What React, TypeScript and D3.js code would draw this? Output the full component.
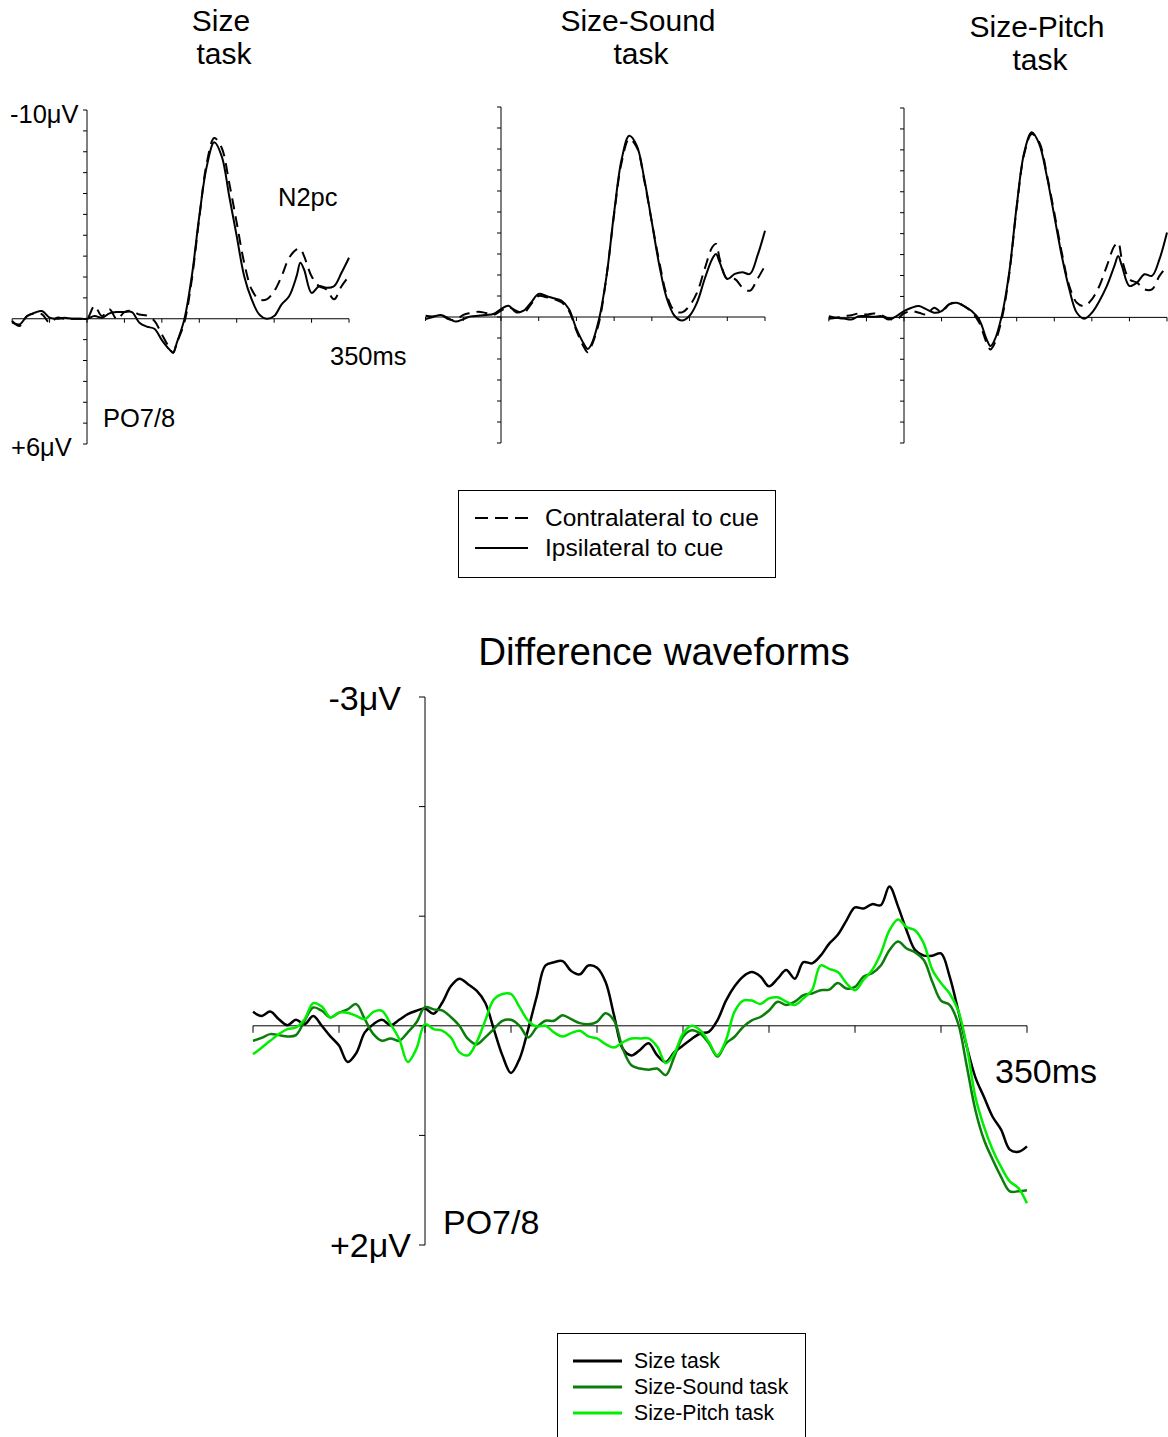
import React from "react";
import * as d3 from "d3";

// ---------- Top panels (ERP, µV, negative up) ----------
const topTimes = [-100, -90, -80, -70, -60, -50, -40, -30, -20, -10, 0, 10, 20, 30, 40, 50, 60, 70, 80, 90, 100, 110, 115, 120, 130, 140, 150, 160, 170, 180, 190, 200, 210, 220, 230, 240, 250, 260, 270, 280, 285, 290, 300, 310, 320, 330, 340, 350];

const sizeIpsi = [0.19, 0.27, -0.13, -0.29, -0.37, -0.05, 0, -0.05, 0, 0, 0, -0.13, -0.05, -0.26, -0.32, -0.32, -0.32, 0.19, 0.38, 0.48, 1.02, 1.47, 1.63, 1.15, 0.03, -2.04, -4.91, -7.3, -8.45, -7.78, -5.87, -3.96, -2.04, -0.93, -0.21, 0, -0.13, -0.69, -1.08, -2.04, -2.68, -2.36, -1.24, -1.56, -1.48, -1.56, -2.2, -2.92];
const sizeContra = [0.11, 0.35, -0.13, -0.26, -0.21, 0.19, -0.05, 0, 0, 0, 0, -0.61, -0.13, -0.45, 0.03, -0.32, -0.37, -0.2, -0.15, 0.1, 0.75, 1.39, 1.63, 1.15, 0.19, -1.88, -4.83, -7.46, -8.66, -8.18, -6.5, -4.6, -2.68, -1.4, -0.93, -0.93, -1.32, -2.04, -2.92, -3.32, -3.35, -3.0, -2.04, -1.56, -1.4, -0.93, -1.56, -2.04];

const soundIpsi = [0.1, 0, -0.1, 0.06, 0.22, 0.1, -0.03, -0.06, -0.1, -0.14, -0.38, -0.54, -0.22, -0.3, -0.7, -1.1, -1.0, -0.89, -0.78, -0.38, 0.57, 1.29, 1.52, 1.29, 0.1, -1.97, -4.98, -7.52, -8.63, -8.16, -6.57, -4.51, -2.44, -0.86, -0.06, 0.17, -0.06, -0.7, -1.81, -2.76, -3.0, -2.6, -1.81, -2.05, -2.13, -2.05, -2.92, -4.11];
const soundContra = [-0.06, -0.03, -0.1, 0.1, 0.13, -0.1, -0.19, -0.25, -0.19, -0.1, -0.3, -0.46, -0.3, -0.19, -0.62, -1.0, -0.94, -0.86, -0.7, -0.3, 0.65, 1.44, 1.68, 1.37, 0.25, -1.97, -4.9, -7.37, -8.48, -8.08, -6.49, -4.51, -2.6, -1.02, -0.3, -0.22, -0.54, -1.17, -2.29, -3.32, -3.48, -2.76, -1.81, -1.81, -1.41, -1.25, -1.81, -2.44];

const pitchIpsi = [-0.06, 0.02, 0.06, 0.1, -0.06, -0.06, -0.03, -0.06, 0.1, -0.06, -0.3, -0.46, -0.54, -0.38, -0.22, -0.3, -0.62, -0.7, -0.54, -0.3, 0.1, 1.05, 1.37, 1.13, -0.06, -2.14, -5.33, -7.88, -8.84, -8.28, -6.76, -4.85, -2.93, -1.34, -0.22, 0.06, -0.22, -0.78, -1.5, -2.46, -2.93, -2.46, -1.5, -1.66, -2.06, -1.98, -2.78, -4.05];
const pitchContra = [0.06, 0.02, -0.06, -0.1, -0.19, -0.14, -0.19, -0.1, 0.06, 0.1, -0.19, -0.3, -0.22, -0.14, -0.46, -0.26, -0.62, -0.7, -0.54, -0.26, 0.25, 1.21, 1.53, 1.29, 0.1, -2.06, -5.25, -7.8, -8.76, -8.36, -6.84, -5.0, -3.09, -1.5, -0.7, -0.54, -0.86, -1.5, -2.46, -3.41, -3.57, -2.78, -1.82, -1.66, -1.34, -1.34, -1.98, -2.46];

const topTitles = [["Size", "task"], ["Size-Sound", "task"], ["Size-Pitch", "task"]];
const topYTicks = d3.range(-10, 7, 1);
const xTicks = d3.range(-100, 351, 50);

// ---------- Difference waveforms ----------
const diffTimes = d3.range(-100, 351, 5);
const diffSize = [-0.128, -0.09, -0.13, -0.06, -0.006, -0.055, -0.015, -0.09, 0, 0.097, 0.18, 0.33, 0.25, 0.06, -0.015, -0.055, -0.006, -0.055, -0.106, -0.137, -0.158,
  -0.11, -0.21, -0.36, -0.43, -0.38, -0.32, -0.21, 0.03, 0.27, 0.43, 0.3, 0.03, -0.27, -0.55, -0.58, -0.59, -0.5, -0.47, -0.55, -0.53, -0.4, -0.09, 0.21, 0.27,
  0.22, 0.16, 0.27, 0.33, 0.24, 0.18, 0.12, 0.07, 0.055, -0.05, -0.23, -0.36, -0.45, -0.49, -0.45, -0.36, -0.43, -0.51, -0.43, -0.58, -0.57, -0.64, -0.75,
  -0.83, -0.96, -1.08, -1.07, -1.11, -1.1, -1.27, -1.09, -0.87, -0.69, -0.64, -0.64, -0.66, -0.45, -0.14, 0.19, 0.47, 0.65, 0.83, 0.95, 1.13, 1.15, 1.1];
const diffSound = [0.137, 0.11, 0.076, 0.085, 0.097, 0.085, -0.046, -0.167, -0.137, -0.076, -0.12, -0.15, -0.198, -0.06, 0.076, 0.137, 0.115, 0.137, 0.06, -0.03, -0.17,
  -0.15, -0.14, -0.08, 0, 0.12, 0.17, 0.106, 0.03, -0.046, -0.055, 0, 0.106, 0.015, -0.046, -0.046, -0.097, -0.06, -0.024, -0.015, -0.036, -0.115, -0.046, 0.21, 0.36,
  0.39, 0.4, 0.39, 0.45, 0.28, 0.1, 0.04, 0.07, 0.16, 0.28, 0.16, 0.1, 0.01, -0.05, -0.08, -0.14, -0.22, -0.19, -0.22, -0.28, -0.295, -0.325, -0.33,
  -0.39, -0.34, -0.355, -0.45, -0.48, -0.55, -0.69, -0.77, -0.705, -0.67, -0.6, -0.4, -0.23, -0.19, -0.02, 0.37, 0.77, 1.04, 1.22, 1.38, 1.51, 1.51, 1.5];
const diffPitch = [0.26, 0.2, 0.137, 0.076, 0.03, 0.015, -0.06, -0.207, -0.176, -0.076, -0.12, -0.12, -0.09, -0.06, -0.128, -0.137, -0.015, 0.12, 0.33, 0.21, -0.015,
  0.03, 0.045, 0.106, 0.24, 0.27, 0.15, -0.046, -0.24, -0.29, -0.29, -0.17, -0.046, 0.006, 0, 0.06, 0.097, 0.067, 0.045, 0.097, 0.115, 0.167, 0.198, 0.15, 0.115,
  0.115, 0.115, 0.19, 0.34, 0.25, 0.07, 0, 0.04, 0.146, 0.27, 0.13, -0.13, -0.23, -0.23, -0.2, -0.25, -0.26, -0.22, -0.19, -0.25, -0.325, -0.55, -0.52,
  -0.49, -0.39, -0.325, -0.42, -0.51, -0.66, -0.87, -0.97, -0.9, -0.87, -0.75, -0.51, -0.39, -0.295, -0.14, 0.19, 0.65, 0.92, 1.13, 1.29, 1.42, 1.48, 1.62];
const diffNames = ["Size task", "Size-Sound task", "Size-Pitch task"];
const diffColors = ["#000000", "#0a7d0a", "#00ee00"];
const diffYTicks = d3.range(-3, 3, 1);

const FONT = "'Liberation Sans', Arial, Helvetica, sans-serif";

const panelLayout = [
  { axisX: 87, xEnd: 349, yTop: 110, yBot: 444, titleX: 221, titleY: 31 },
  { axisX: 501, xEnd: 765, yTop: 107, yBot: 443, titleX: 638, titleY: 31 },
  { axisX: 904, xEnd: 1167, yTop: 108, yBot: 443, titleX: 1037, titleY: 37 },
];
const panelData = [
  { contra: sizeContra, ipsi: sizeIpsi },
  { contra: soundContra, ipsi: soundIpsi },
  { contra: pitchContra, ipsi: pitchIpsi },
];

function TopPanel({ idx }: { idx: number }) {
  const L = panelLayout[idx];
  const D = panelData[idx];
  const w = L.xEnd - L.axisX;
  const x = d3.scaleLinear().domain([-100, 350]).range([L.axisX - (w * 100) / 350, L.xEnd]);
  const y = d3.scaleLinear().domain([-10, 6]).range([L.yTop, L.yBot]);
  const line = d3
    .line<number>()
    .x((_, i) => x(topTimes[i]))
    .y((v) => y(v))
    .curve(d3.curveCatmullRom.alpha(0.5));
  const y0 = y(0);
  return (
    <g>
      <text x={L.titleX} y={L.titleY} textAnchor="middle" fontSize={30} fontFamily={FONT}>{topTitles[idx][0]}</text>
      <text x={L.titleX + 3} y={L.titleY + 33} textAnchor="middle" fontSize={30} fontFamily={FONT}>{topTitles[idx][1]}</text>
      <line x1={x(-100)} x2={x(350)} y1={y0} y2={y0} stroke="#000" strokeWidth={1} />
      {xTicks.map((t) => (
        <line key={"xt" + t} x1={x(t)} x2={x(t)} y1={y0} y2={y0 + 4} stroke="#000" strokeWidth={1} />
      ))}
      <line x1={x(0)} x2={x(0)} y1={y(-10)} y2={y(6)} stroke="#000" strokeWidth={1} />
      {topYTicks.map((v) => (
        <line key={"yt" + v} x1={x(0) - 4} x2={x(0)} y1={y(v)} y2={y(v)} stroke="#000" strokeWidth={1} />
      ))}
      <path d={line(D.contra) || ""} fill="none" stroke="#000" strokeWidth={2} strokeDasharray="11,7" />
      <path d={line(D.ipsi) || ""} fill="none" stroke="#000" strokeWidth={2} />
      {idx === 0 && (
        <g fontFamily={FONT} fontSize={25.5}>
          <text x={10} y={123}>-10μV</text>
          <text x={11} y={456}>+6μV</text>
          <text x={278} y={206}>N2pc</text>
          <text x={330} y={365}>350ms</text>
          <text x={103} y={427}>PO7/8</text>
        </g>
      )}
    </g>
  );
}

function DiffChart() {
  const x = d3.scaleLinear().domain([-100, 350]).range([253, 1027]);
  const y = d3.scaleLinear().domain([-3, 2]).range([697, 1245]);
  const line = d3
    .line<number>()
    .x((_, i) => x(diffTimes[i]))
    .y((v) => y(v))
    .curve(d3.curveCatmullRom.alpha(0.5));
  const series = [diffSize, diffSound, diffPitch];
  const y0 = y(0);
  return (
    <g>
      <text x={664} y={665} textAnchor="middle" fontSize={38.5} fontFamily={FONT}>Difference waveforms</text>
      <line x1={x(-100)} x2={x(350)} y1={y0} y2={y0} stroke="#000" strokeWidth={1} />
      {xTicks.map((t) => (
        <line key={"dxt" + t} x1={x(t)} x2={x(t)} y1={y0} y2={y0 + 7} stroke="#000" strokeWidth={1} />
      ))}
      <line x1={x(0)} x2={x(0)} y1={y(-3)} y2={y(2)} stroke="#000" strokeWidth={1} />
      {diffYTicks.map((v) => (
        <line key={"dyt" + v} x1={x(0) - 6} x2={x(0)} y1={y(v)} y2={y(v)} stroke="#000" strokeWidth={1} />
      ))}
      {series.map((s, i) => (
        <path key={"s" + i} d={line(s) || ""} fill="none" stroke={diffColors[i]} strokeWidth={2.5} />
      ))}
      <g fontFamily={FONT} fontSize={34}>
        <text x={401} y={710} textAnchor="end">-3μV</text>
        <text x={411} y={1257} textAnchor="end">+2μV</text>
        <text x={995} y={1083}>350ms</text>
        <text x={443} y={1234}>PO7/8</text>
      </g>
    </g>
  );
}

function Legends() {
  const cueItems = ["Contralateral to cue", "Ipsilateral to cue"];
  return (
    <g fontFamily={FONT}>
      <rect x={458.5} y={490.5} width={317} height={87} fill="none" stroke="#000" strokeWidth={1} />
      {cueItems.map((name, i) => (
        <g key={name}>
          <line x1={475} x2={528} y1={518 + i * 30} y2={518 + i * 30} stroke="#000" strokeWidth={2} strokeDasharray={i === 0 ? "13,7" : undefined} />
          <text x={545} y={526 + i * 30} fontSize={24.5}>{name}</text>
        </g>
      ))}
      <rect x={557.5} y={1333.5} width={248} height={120} fill="none" stroke="#000" strokeWidth={1} />
      {diffNames.map((name, i) => (
        <g key={name}>
          <line x1={573} x2={622} y1={1361 + i * 26} y2={1361 + i * 26} stroke={diffColors[i]} strokeWidth={3} />
          <text x={634} y={1368 + i * 26} fontSize={21.2}>{name}</text>
        </g>
      ))}
    </g>
  );
}

export default function App() {
  return (
    <svg
      width={1168}
      height={1437}
      viewBox="0 0 1168 1437"
      style={{ position: "absolute", left: 0, top: 0, background: "#fff" }}
    >
      <rect x={0} y={0} width={1168} height={1437} fill="#fff" />
      {[0, 1, 2].map((i) => (
        <TopPanel key={i} idx={i} />
      ))}
      <Legends />
      <DiffChart />
    </svg>
  );
}
